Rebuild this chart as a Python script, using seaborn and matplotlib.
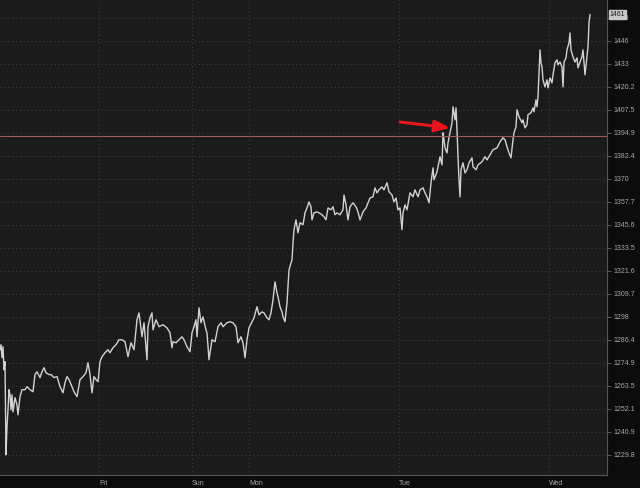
import matplotlib
matplotlib.use('Agg')
import matplotlib.pyplot as plt
from matplotlib.ticker import NullLocator
import seaborn as sns

# bar number (approx 10 min bars, weekend gap compressed) and price
bar = [0, 1, 2, 3, 4, 5, 6, 7, 8, 9, 10, 11, 12, 13, 15, 17, 18, 20, 22, 25,
       27, 30, 33, 35, 37, 40, 42, 44, 46, 49, 51, 54, 57, 60, 63, 65, 67, 69, 72, 74,
       77, 80, 83, 86, 88, 90, 92, 94, 96, 98, 100, 102, 105, 108, 110, 113, 116, 119, 122, 125,
       128, 131, 134, 137, 139, 142, 144, 147, 148, 150, 152, 153, 156, 159, 163, 167, 170, 172, 173, 176,
       179, 182, 184, 187, 190, 192, 194, 196, 197, 199, 201, 203, 206, 207, 209, 212, 215, 218, 221, 223,
       227, 230, 233, 236, 238, 241, 243, 245, 247, 249, 252, 254, 257, 259, 262, 264, 267, 269, 271, 273,
       275, 277, 278, 280, 282, 283, 285, 287, 289, 292, 293, 294, 296, 298, 300, 303, 305, 307, 309, 311,
       312, 314, 317, 319, 322, 324, 326, 328, 331, 333, 335, 337, 340, 343, 344, 346, 348, 350, 353, 356,
       358, 360, 363, 366, 368, 370, 373, 375, 377, 379, 382, 384, 387, 389, 392, 394, 396, 398, 400, 402,
       403, 405, 407, 410, 413, 415, 418, 420, 423, 425, 427, 429, 431, 433, 434, 437, 438, 440, 442, 443,
       444, 445, 447, 448, 450, 452, 453, 455, 456, 457, 458, 459, 460, 461, 463, 465, 467, 469, 472, 473,
       476, 478, 482, 485, 487, 490, 493, 497, 500, 503, 505, 507, 509, 511, 513, 514, 516, 517, 519, 522,
       523, 525, 527, 528, 531, 533, 534, 536, 537, 538, 539, 540, 541, 542, 543, 545, 547, 548, 550, 552,
       553, 555, 557, 558, 560, 562, 563, 564, 566, 567, 569, 570, 571, 573, 575, 577, 578, 580, 582, 583,
       584, 585, 587, 588, 589, 590]
price = [1281.4, 1283.9, 1277.4, 1282.9, 1271.4, 1275.4, 1229.8, 1243.3, 1251.6, 1261.5,
         1259.0, 1251.6, 1259.0, 1250.6, 1257.6, 1254.1, 1249.2, 1258.1, 1261.5, 1261.5,
         1263.0, 1261.5, 1260.5, 1269.0, 1270.4, 1267.5, 1270.4, 1272.4, 1269.9, 1269.0,
         1269.0, 1267.5, 1268.0, 1263.0, 1260.0, 1265.0, 1268.0, 1266.5, 1263.0, 1260.5,
         1258.1, 1266.5, 1268.0, 1269.9, 1274.9, 1269.0, 1260.0, 1268.0, 1266.5, 1265.5,
         1275.4, 1277.9, 1279.9, 1281.4, 1279.9, 1282.4, 1283.9, 1286.4, 1286.4, 1285.4,
         1277.9, 1284.9, 1281.4, 1296.5, 1300.0, 1287.9, 1295.0, 1276.4, 1293.0, 1297.5,
         1300.0, 1291.4, 1296.5, 1293.0, 1294.0, 1292.4, 1289.9, 1282.4, 1285.4, 1284.9,
         1286.4, 1287.9, 1286.4, 1282.9, 1280.4, 1289.9, 1293.0, 1296.5, 1287.9, 1302.6,
         1295.0, 1298.0, 1291.4, 1289.9, 1276.4, 1286.4, 1285.4, 1293.0, 1295.0, 1293.0,
         1295.0, 1295.5, 1295.0, 1293.0, 1284.9, 1287.9, 1284.9, 1277.4, 1286.4, 1292.4,
         1295.5, 1297.5, 1303.1, 1299.0, 1300.5, 1300.0, 1297.5, 1296.5, 1300.0, 1306.7,
         1315.9, 1310.2, 1308.2, 1303.1, 1300.5, 1298.0, 1295.5, 1305.1, 1322.1, 1327.3,
         1336.1, 1343.0, 1348.2, 1341.4, 1346.7, 1345.6, 1351.9, 1354.5, 1357.7, 1355.1,
         1348.2, 1351.9, 1352.4, 1351.9, 1350.9, 1349.8, 1348.2, 1354.5, 1353.5, 1355.1,
         1350.9, 1351.9, 1350.9, 1353.5, 1361.4, 1356.1, 1348.2, 1355.1, 1357.2, 1355.1,
         1352.4, 1348.2, 1352.4, 1354.5, 1357.2, 1359.8, 1360.4, 1365.2, 1362.5, 1364.1,
         1365.7, 1364.1, 1367.9, 1363.1, 1361.4, 1357.7, 1359.8, 1353.5, 1354.5, 1343.0,
         1351.9, 1356.1, 1353.5, 1362.5, 1360.4, 1364.1, 1360.4, 1364.1, 1365.2, 1362.5,
         1360.4, 1357.2, 1367.9, 1375.9, 1369.5, 1373.8, 1376.5, 1381.9, 1377.5, 1394.9,
         1391.1, 1386.7, 1384.0, 1389.5, 1394.9, 1400.4, 1409.2, 1402.0, 1408.6, 1396.5,
         1381.9, 1369.5, 1360.4, 1374.9, 1378.6, 1373.2, 1374.9, 1378.6, 1381.3, 1376.5,
         1374.9, 1377.5, 1379.2, 1381.9, 1380.2, 1382.9, 1385.7, 1386.7, 1390.0, 1392.2,
         1391.1, 1387.3, 1384.0, 1381.3, 1391.1, 1394.9, 1398.2, 1407.5, 1403.7, 1400.4,
         1402.0, 1397.6, 1399.3, 1404.8, 1405.9, 1408.6, 1406.4, 1413.0, 1409.2, 1414.7,
         1428.0, 1440.9, 1433.6, 1431.3, 1424.1, 1420.2, 1424.1, 1419.6, 1425.2, 1422.4,
         1426.9, 1433.6, 1435.3, 1432.5, 1434.1, 1431.3, 1420.2, 1434.1, 1436.4, 1440.9,
         1444.9, 1450.5, 1440.9, 1437.0, 1434.1, 1436.4, 1430.8, 1434.1, 1437.0, 1440.9,
         1434.1, 1426.9, 1437.0, 1442.6, 1456.2, 1461.0]

day_ticks = [99, 192, 249, 399, 549]
day_labels = ['Fri', 'Sun', 'Mon', 'Tue', 'Wed']
price_ticks = [1229.8, 1240.9, 1252.1, 1263.5, 1274.9, 1286.4, 1298, 1309.7, 1321.6, 1333.5,
               1345.6, 1357.7, 1370, 1382.4, 1394.9, 1407.5, 1420.2, 1433, 1446, 1459]
price_labels = ['1229.8', '1240.9', '1252.1', '1263.5', '1274.9', '1286.4', '1298', '1309.7',
                '1321.6', '1333.5', '1345.6', '1357.7', '1370', '1382.4', '1394.9', '1407.5',
                '1420.2', '1433', '1446', '1459']
level = 1392.9
last_price = 1461.0
arrow_from = (400, 1400.8)
arrow_to = (450, 1397.6)

sns.set_style('dark', {'axes.facecolor': '#1b1b1b', 'figure.facecolor': '#0c0c0c',
                       'axes.edgecolor': '#4a4a4a', 'grid.color': '#3c3c3c'})
plt.rcParams['font.family'] = ['Liberation Sans Narrow', 'Liberation Sans', 'DejaVu Sans']

fig = plt.figure(figsize=(6.4, 4.88), dpi=100)
ax = fig.add_axes([0, 13 / 488, 607 / 640, 475 / 488])

sns.lineplot(x=bar, y=price, ax=ax, color='#d2d2d2', linewidth=1.0)

ax.set_yscale('log')
ax.yaxis.set_minor_locator(NullLocator())
ax.set_ylim(1220.1, 1469.3)
ax.set_xlim(0, 607)
ax.set_yticks(price_ticks)
ax.set_yticklabels(price_labels)
ax.set_xticks(day_ticks)
ax.set_xticklabels(day_labels, ha='left')
ax.set_xlabel('')
ax.set_ylabel('')

ax.yaxis.tick_right()
ax.tick_params(axis='y', length=3, width=0.6, color='#666666', labelsize=5,
               labelcolor='#a8a8a8', pad=1.5)
ax.tick_params(axis='x', length=2, width=0.6, color='#666666', labelsize=5,
               labelcolor='#a8a8a8', pad=1.5)

ax.grid(True, axis='both', linestyle=(0, (1, 3)), linewidth=0.7, color='#454545')
for side in ['left', 'top']:
    ax.spines[side].set_visible(False)
for side in ['right', 'bottom']:
    ax.spines[side].set_color('#555555')
    ax.spines[side].set_linewidth(0.8)

ax.axhline(level, color='#a05a5a', linewidth=0.8)

ax.annotate('', xy=arrow_to, xytext=arrow_from,
            arrowprops=dict(arrowstyle='-|>,head_length=0.9,head_width=0.35',
                            color='#e8141c', lw=2.2, shrinkA=0, shrinkB=0))

ax.annotate(f'{last_price:g}', xy=(1.0, last_price), xycoords=('axes fraction', 'data'),
            xytext=(2, 0), textcoords='offset points', va='center', ha='left',
            fontsize=5, color='#1a1a1a',
            bbox=dict(boxstyle='square,pad=0.15', fc='#c8c8c8', ec='#c8c8c8'))

fig.savefig('out.png', dpi=100)
